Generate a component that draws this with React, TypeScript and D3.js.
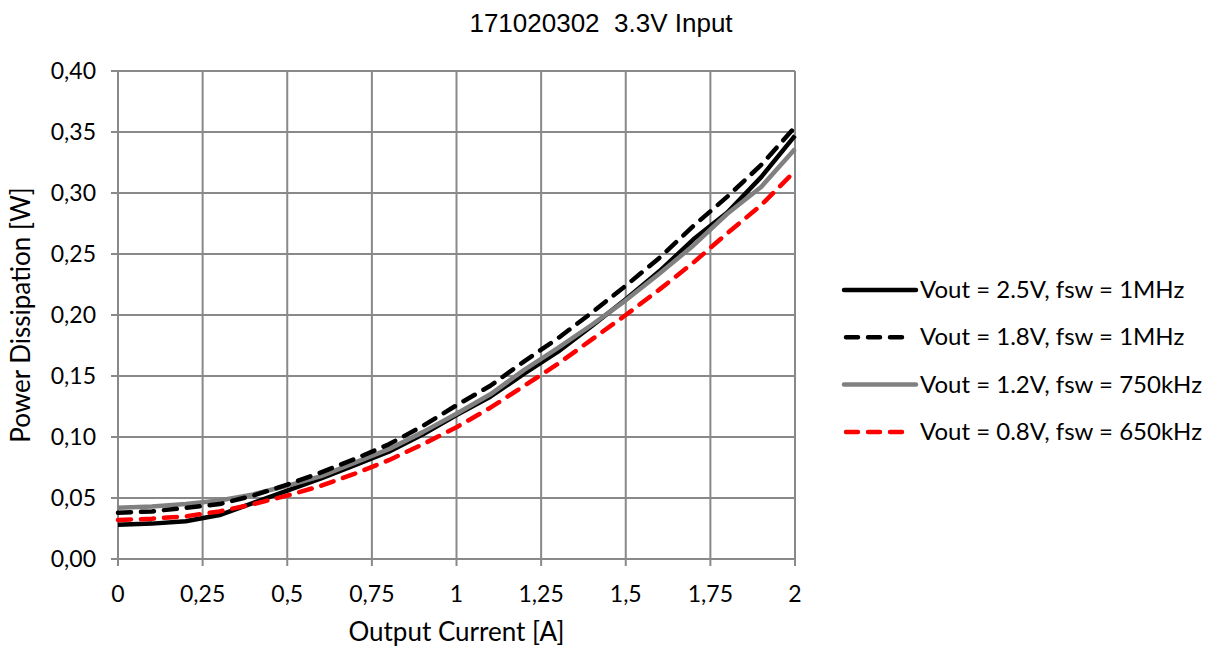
import React, { useEffect, useRef } from 'react';
import * as d3 from 'd3';

const current = [0, 0.1, 0.2, 0.3, 0.4, 0.5, 0.6, 0.7, 0.8, 0.9, 1.0, 1.1, 1.2, 1.3, 1.4, 1.5, 1.6, 1.7, 1.8, 1.9, 2.0];

const v25 = [0.028, 0.029, 0.031, 0.036, 0.046, 0.056, 0.066, 0.077, 0.088, 0.102, 0.118, 0.133, 0.152, 0.170, 0.191, 0.213, 0.236, 0.262, 0.284, 0.313, 0.347];
const v18 = [0.038, 0.039, 0.042, 0.045, 0.052, 0.061, 0.071, 0.082, 0.094, 0.109, 0.126, 0.142, 0.162, 0.181, 0.202, 0.224, 0.247, 0.273, 0.297, 0.323, 0.354];
const v12 = [0.042, 0.043, 0.045, 0.048, 0.053, 0.060, 0.068, 0.079, 0.090, 0.104, 0.119, 0.135, 0.155, 0.173, 0.192, 0.212, 0.234, 0.257, 0.283, 0.305, 0.336];
const v08 = [0.032, 0.033, 0.035, 0.039, 0.045, 0.052, 0.060, 0.070, 0.081, 0.094, 0.108, 0.124, 0.142, 0.160, 0.180, 0.200, 0.221, 0.243, 0.267, 0.290, 0.318];

const seriesNames = [
  'Vout = 2.5V, fsw = 1MHz',
  'Vout = 1.8V, fsw = 1MHz',
  'Vout = 1.2V, fsw = 750kHz',
  'Vout = 0.8V, fsw = 650kHz',
];

const xTicks = [0, 0.25, 0.5, 0.75, 1, 1.25, 1.5, 1.75, 2];
const yTicks = [0, 0.05, 0.1, 0.15, 0.2, 0.25, 0.3, 0.35, 0.4];

const fmt = (v: number) => String(v).replace('.', ',');
const fmtY = (v: number) => v.toFixed(2).replace('.', ',');

const App: React.FC = () => {
  const svgRef = useRef<SVGSVGElement>(null);

  useEffect(() => {
    if (!svgRef.current) return;
    const svg = d3.select(svgRef.current);
    svg.selectAll('*').remove();

    const width = 1211;
    const height = 647;
    const font = 'Lato, "Open Sans", sans-serif';
    const grid = '#898989';

    const x = d3.scaleLinear().domain([0, 2]).range([118, 795]);
    const y = d3.scaleLinear().domain([0, 0.4]).range([559, 71]);

    svg.attr('width', width).attr('height', height);

    // gridlines
    svg.append('g')
      .selectAll('line')
      .data(xTicks)
      .enter()
      .append('line')
      .attr('x1', d => x(d))
      .attr('x2', d => x(d))
      .attr('y1', y(0.4))
      .attr('y2', y(0) + 7)
      .attr('stroke', grid)
      .attr('stroke-width', 2);

    svg.append('g')
      .selectAll('line')
      .data(yTicks)
      .enter()
      .append('line')
      .attr('x1', x(0) - 7)
      .attr('x2', x(2))
      .attr('y1', d => y(d))
      .attr('y2', d => y(d))
      .attr('stroke', grid)
      .attr('stroke-width', 2);

    // tick labels
    svg.append('g')
      .selectAll('text')
      .data(xTicks)
      .enter()
      .append('text')
      .attr('x', d => x(d))
      .attr('y', 602)
      .attr('text-anchor', 'middle')
      .attr('font-family', font)
      .attr('font-size', 23)
      .attr('fill', '#000')
      .text(d => fmt(d));

    svg.append('g')
      .selectAll('text')
      .data(yTicks)
      .enter()
      .append('text')
      .attr('x', 96)
      .attr('y', d => y(d) + 8)
      .attr('text-anchor', 'end')
      .attr('font-family', font)
      .attr('font-size', 23)
      .attr('fill', '#000')
      .text(d => fmtY(d));

    // axis titles
    svg.append('text')
      .attr('x', x(1))
      .attr('y', 641)
      .attr('text-anchor', 'middle')
      .attr('font-family', font)
      .attr('font-size', 26)
      .text('Output Current [A]');

    svg.append('text')
      .attr('transform', `translate(30,${y(0.2)}) rotate(-90)`)
      .attr('text-anchor', 'middle')
      .attr('font-family', font)
      .attr('font-size', 26)
      .text('Power Dissipation [W]');

    // title
    svg.append('text')
      .attr('x', 601)
      .attr('y', 32)
      .attr('text-anchor', 'middle')
      .attr('font-family', '"Liberation Sans Narrow", "Liberation Sans", Arial, sans-serif')
      .attr('font-size', 26)
      .style('white-space', 'pre')
      .text('171020302  3.3V Input');

    const styles = [
      { data: v25, color: '#000000', dash: null },
      { data: v18, color: '#000000', dash: '13 10' },
      { data: v12, color: '#808080', dash: null },
      { data: v08, color: '#ff0000', dash: '13 10' },
    ];

    const line = d3.line<number>()
      .x((_, i) => x(current[i]))
      .y(d => y(d));

    // gray over black solid, dashed on top
    const order = [0, 2, 1, 3];
    order.forEach(i => {
      const s = styles[i];
      svg.append('path')
        .datum(s.data)
        .attr('d', line)
        .attr('fill', 'none')
        .attr('stroke', s.color)
        .attr('stroke-width', 4.5)
        .attr('stroke-linecap', s.dash ? 'round' : 'butt')
        .attr('stroke-linejoin', 'round')
        .attr('stroke-dasharray', s.dash);
    });

    // legend
    const legend = svg.append('g');
    styles.forEach((s, i) => {
      const ly = 290 + i * 47.3;
      legend.append('line')
        .attr('x1', s.dash ? 846 : 844)
        .attr('x2', s.dash ? 906 : 916)
        .attr('y1', ly)
        .attr('y2', ly)
        .attr('stroke', s.color)
        .attr('stroke-width', 4.5)
        .attr('stroke-linecap', 'round')
        .attr('stroke-dasharray', s.dash ? '12 10' : null);
      legend.append('text')
        .attr('x', 920)
        .attr('y', ly + 8)
        .attr('font-family', font)
        .attr('font-size', 24)
        .text(seriesNames[i]);
    });
  }, []);

  return (
    <div>
      <svg ref={svgRef} style={{ display: 'block', position: 'absolute', left: 0, top: 0 }}></svg>
    </div>
  );
};

export default App;
